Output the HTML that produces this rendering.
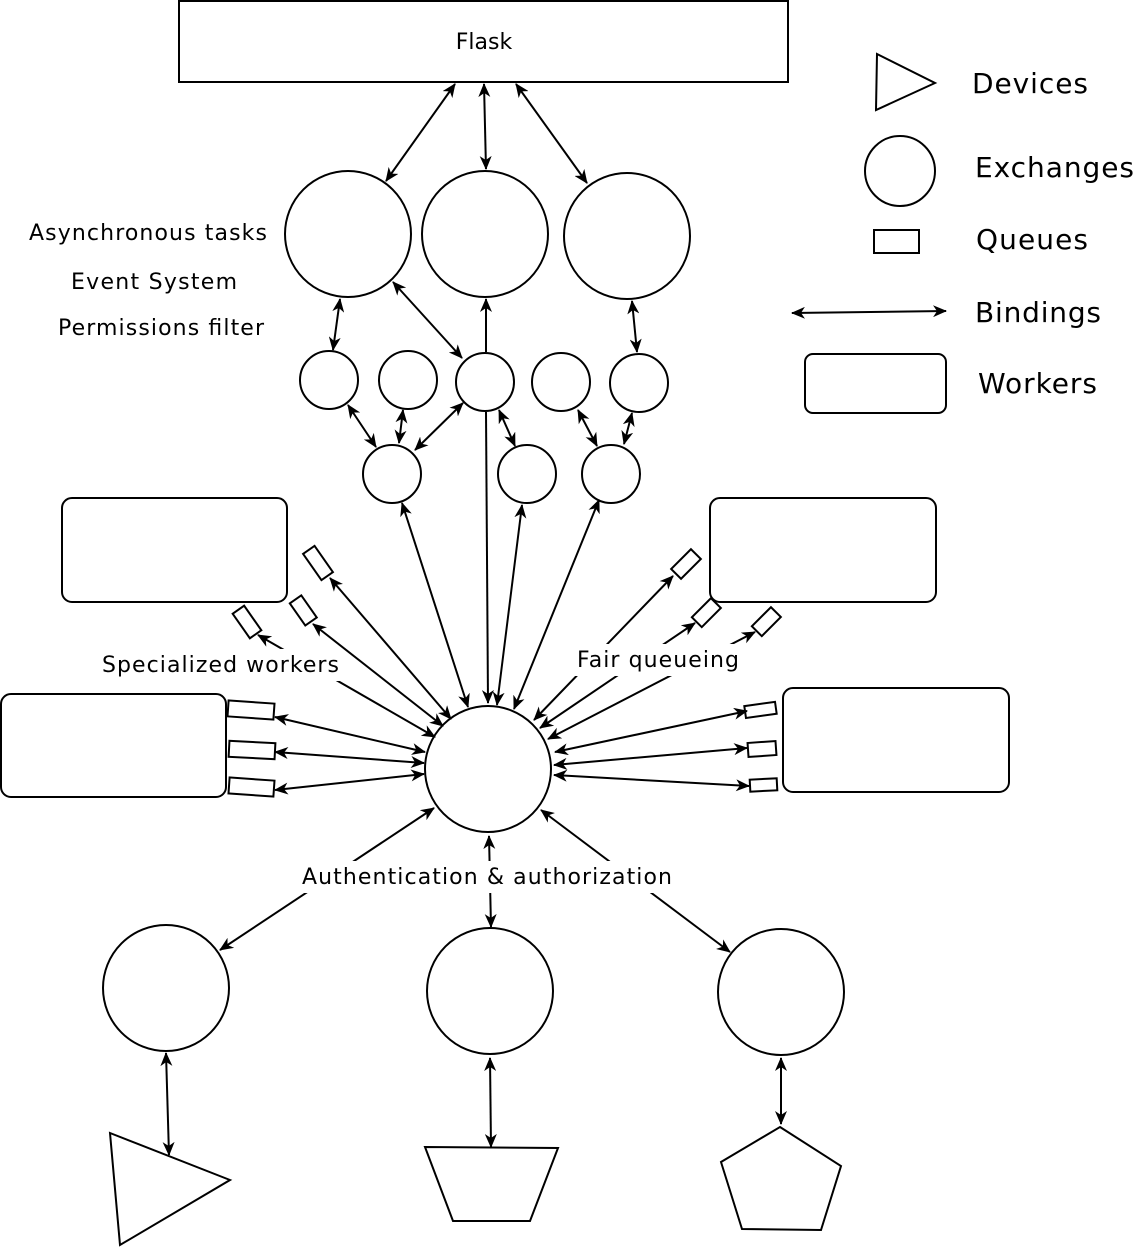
<!DOCTYPE html>
<html><head><meta charset="utf-8"><style>
html,body{margin:0;padding:0;background:#fff}
svg{display:block}
text{font-family:"DejaVu Sans","Liberation Sans",sans-serif;fill:#000}
</style></head><body>
<svg width="1135" height="1247" viewBox="0 0 1135 1247" xmlns="http://www.w3.org/2000/svg">
<defs>
<marker id="a" viewBox="0 0 14 12" refX="13" refY="6" markerWidth="14" markerHeight="12" markerUnits="userSpaceOnUse" orient="auto-start-reverse">
<path d="M0,0 L14,6 L0,12 L4,6 z" fill="#000"/>
</marker>
</defs>
<g fill="none" stroke="#000" stroke-width="2">
<rect x="179" y="1" width="609" height="81"/>
<circle cx="348" cy="234" r="63"/>
<circle cx="485" cy="234" r="63"/>
<circle cx="627" cy="236" r="63"/>
<circle cx="329" cy="380" r="29"/>
<circle cx="408" cy="380" r="29"/>
<circle cx="485" cy="382" r="29"/>
<circle cx="561" cy="382" r="29"/>
<circle cx="639" cy="383" r="29"/>
<circle cx="392" cy="474" r="29"/>
<circle cx="527" cy="474" r="29"/>
<circle cx="611" cy="474" r="29"/>
<circle cx="488" cy="769" r="63"/>
<circle cx="166" cy="988" r="63"/>
<circle cx="490" cy="991" r="63"/>
<circle cx="781" cy="992" r="63"/>
<rect x="62" y="498" width="225" height="104" rx="10"/>
<rect x="710" y="498" width="226" height="104" rx="10"/>
<rect x="1" y="694" width="225" height="103" rx="10"/>
<rect x="783" y="688" width="226" height="104" rx="10"/>
<polygon points="110,1133 230,1180 120,1245"/>
<polygon points="425,1147 558,1148 530,1221 453,1221"/>
<polygon points="780,1127 841,1166 821,1230 742,1229 721,1162"/>
<polygon points="877,54 935,83 876,110"/>
<circle cx="900" cy="171" r="35"/>
<rect x="874" y="230" width="45" height="23"/>
<rect x="805" y="354" width="141" height="59" rx="8"/>
<rect x="311" y="547" width="14" height="32" transform="rotate(-35 318 563)"/>
<rect x="296" y="597" width="14" height="27" transform="rotate(-35 303 610)"/>
<rect x="240" y="607" width="14" height="30" transform="rotate(-35 247 622)"/>
<rect x="672" y="557" width="28" height="14" transform="rotate(-45 686 564)"/>
<rect x="693" y="606" width="27" height="14" transform="rotate(-45 706 613)"/>
<rect x="753" y="615" width="27" height="14" transform="rotate(-45 766 622)"/>
<rect x="228" y="702" width="46" height="16" transform="rotate(4 251 710)"/>
<rect x="229" y="742" width="46" height="16" transform="rotate(3 252 750)"/>
<rect x="229" y="779" width="45" height="16" transform="rotate(4 251 787)"/>
<rect x="745" y="704" width="31" height="12" transform="rotate(-8 760 710)"/>
<rect x="748" y="742" width="28" height="14" transform="rotate(-4 762 749)"/>
<rect x="750" y="779" width="27" height="12" transform="rotate(-3 763 785)"/>
</g>
<g stroke="#000" stroke-width="2" fill="none" marker-end="url(#a)" marker-start="url(#a)">
<line x1="455" y1="84" x2="386" y2="181"/>
<line x1="484" y1="84" x2="486" y2="169"/>
<line x1="516" y1="84" x2="587" y2="183"/>
<line x1="340" y1="299" x2="333" y2="350"/>
<line x1="393" y1="282" x2="462" y2="358"/>
<line x1="632" y1="301" x2="637" y2="352"/>
<line x1="348" y1="405" x2="376" y2="447"/>
<line x1="403" y1="410" x2="399" y2="443"/>
<line x1="463" y1="403" x2="415" y2="450"/>
<line x1="499" y1="410" x2="515" y2="446"/>
<line x1="578" y1="410" x2="597" y2="446"/>
<line x1="632" y1="413" x2="624" y2="444"/>
<line x1="402" y1="503" x2="468" y2="707"/>
<line x1="522" y1="505" x2="497" y2="705"/>
<line x1="599" y1="500" x2="514" y2="709"/>
<line x1="330" y1="578" x2="451" y2="719"/>
<line x1="313" y1="624" x2="443" y2="726"/>
<line x1="258" y1="635" x2="435" y2="737"/>
<line x1="673" y1="576" x2="534" y2="720"/>
<line x1="695" y1="623" x2="540" y2="728"/>
<line x1="755" y1="632" x2="548" y2="739"/>
<line x1="275" y1="717" x2="425" y2="752"/>
<line x1="275" y1="752" x2="424" y2="763"/>
<line x1="275" y1="790" x2="424" y2="774"/>
<line x1="747" y1="711" x2="555" y2="752"/>
<line x1="747" y1="748" x2="554" y2="765"/>
<line x1="749" y1="786" x2="554" y2="775"/>
<line x1="434" y1="808" x2="220" y2="950"/>
<line x1="489" y1="836" x2="491" y2="927"/>
<line x1="541" y1="810" x2="730" y2="952"/>
<line x1="166" y1="1053" x2="169" y2="1155"/>
<line x1="490" y1="1058" x2="491" y2="1147"/>
<line x1="781" y1="1058" x2="781" y2="1124"/>
<line x1="792" y1="313" x2="946" y2="311"/>
</g>
<g stroke="#000" stroke-width="2" fill="none">
<line x1="486" y1="352" x2="486" y2="299" marker-end="url(#a)"/>
<line x1="486" y1="412" x2="488" y2="703" marker-end="url(#a)"/>
</g>
<g fill="#fff">
<rect x="98" y="649" width="245" height="32"/>
<rect x="573" y="644" width="170" height="32"/>
<rect x="297" y="861" width="380" height="32"/>
</g>
<g font-size="22">
<text x="484" y="49" text-anchor="middle">Flask</text>
<text x="29" y="240" textLength="238">Asynchronous tasks</text>
<text x="71" y="289" textLength="166">Event System</text>
<text x="58" y="335" textLength="206">Permissions filter</text>
<text x="102" y="672" textLength="237">Specialized workers</text>
<text x="577" y="667" textLength="162">Fair queueing</text>
<text x="302" y="884" textLength="370">Authentication &amp; authorization</text>
</g>
<g font-size="28">
<text x="972" y="93" textLength="116">Devices</text>
<text x="975" y="177" textLength="159">Exchanges</text>
<text x="976" y="249" textLength="112">Queues</text>
<text x="975" y="322" textLength="126">Bindings</text>
<text x="978" y="393" textLength="119">Workers</text>
</g>
</svg>
</body></html>
